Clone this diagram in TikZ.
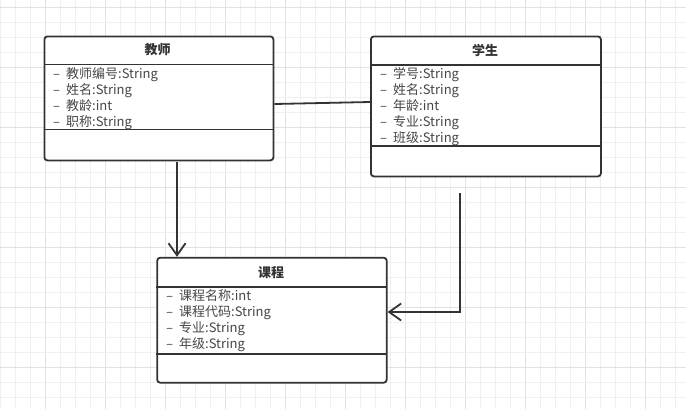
\documentclass[tikz,border=0pt]{standalone}
\usepackage{fontspec}
\setmainfont{Noto Sans CJK SC}
\usetikzlibrary{arrows.meta,calc}
\definecolor{ink}{HTML}{333333}
\definecolor{gridminor}{HTML}{F0F0F0}
\definecolor{gridmajor}{HTML}{E2E2E2}
\tikzset{
  umlbox/.style={draw=ink, line width=1.8bp, rounded corners=3bp, fill=white, inner sep=0pt, anchor=north west},
  sepline/.style={draw=ink, line width=1.8bp},
  hdr/.style={font=\fontsize{13bp}{15bp}\selectfont\bfseries, text=ink, anchor=center, inner sep=0pt},
  attr/.style={font=\fontsize{13bp}{15bp}\selectfont, text=ink!90, anchor=base west, inner sep=0pt},
  conn/.style={draw=ink, line width=1.8bp},
  arr/.style={conn, -{Straight Barb[length=12bp, width=17bp, line width=1.8bp]}},
}
\newcommand{\attrtext}[1]{\makebox[13bp][l]{–}#1}
\begin{document}
\begin{tikzpicture}[x=1bp, y=-1bp]
\useasboundingbox (0,0) rectangle (686,409);
\fill[white] (0,0) rectangle (686,409);
% grid
\foreach \k in {0,...,45} {
  \pgfmathtruncatemacro{\m}{mod(\k,4)}
  \ifnum\m=3 \draw[gridmajor, line width=1bp] (0.5+15*\k,0) -- (0.5+15*\k,409);
  \else \draw[gridminor, line width=1bp] (0.5+15*\k,0) -- (0.5+15*\k,409); \fi
}
\foreach \k in {0,...,26} {
  \pgfmathtruncatemacro{\m}{mod(\k,4)}
  \ifnum\m=0 \draw[gridmajor, line width=1bp] (0,7.5+15*\k) -- (686,7.5+15*\k);
  \else \draw[gridminor, line width=1bp] (0,7.5+15*\k) -- (686,7.5+15*\k); \fi
}

% Teacher box
\node[umlbox, minimum width=229bp, minimum height=124bp] (teacher) at (43.5,35.5) {};
\draw[sepline] (43.5,64.5) -- (272.5,64.5);
\draw[sepline] (43.5,129.5) -- (272.5,129.5);
\node[hdr] (th) at (157.5,50) {教师};
\node[attr] (t1) at (53,78.3) {\attrtext{教师编号:String}};
\node[attr] (t2) at (53,94.3) {\attrtext{姓名:String}};
\node[attr] (t3) at (53,110.3) {\attrtext{教龄:int}};
\node[attr] (t4) at (53,126.3) {\attrtext{职称:String}};

% Student box
\node[umlbox, minimum width=230bp, minimum height=140bp] (student) at (370,35.5) {};
\draw[sepline] (370,64.8) -- (600,64.8);
\draw[sepline] (370,146) -- (600,146);
\node[hdr] (sh) at (485,50) {学生};
\node[attr] (s1) at (380,78.3) {\attrtext{学号:String}};
\node[attr] (s2) at (380,94.3) {\attrtext{姓名:String}};
\node[attr] (s3) at (380,110.3) {\attrtext{年龄:int}};
\node[attr] (s4) at (380,126.3) {\attrtext{专业:String}};
\node[attr] (s5) at (380,142.3) {\attrtext{班级:String}};

% Course box
\node[umlbox, minimum width=229.5bp, minimum height=125bp] (course) at (156.3,256.8) {};
\draw[sepline] (156.3,287) -- (385.8,287);
\draw[sepline] (156.3,353.7) -- (385.8,353.7);
\node[hdr] (ch) at (271,272.7) {课程};
\node[attr] (c1) at (166,300) {\attrtext{课程名称:int}};
\node[attr] (c2) at (166,316.5) {\attrtext{课程代码:String}};
\node[attr] (c3) at (166,332.5) {\attrtext{专业:String}};
\node[attr] (c4) at (166,348.3) {\attrtext{年级:String}};

% connectors
\coordinate (tA) at (teacher.east |- 0,104);
\coordinate (sA) at (student.west |- 0,102);
\draw[conn] (tA) -- (sA);

\coordinate (a1) at (177,162);
\draw[arr] (a1) -- (a1 |- course.north);

\coordinate (a2) at (460,193);
\coordinate (cE) at (course.east |- 0,312);
\draw[arr] (a2) |- (cE);
\end{tikzpicture}
\end{document}
